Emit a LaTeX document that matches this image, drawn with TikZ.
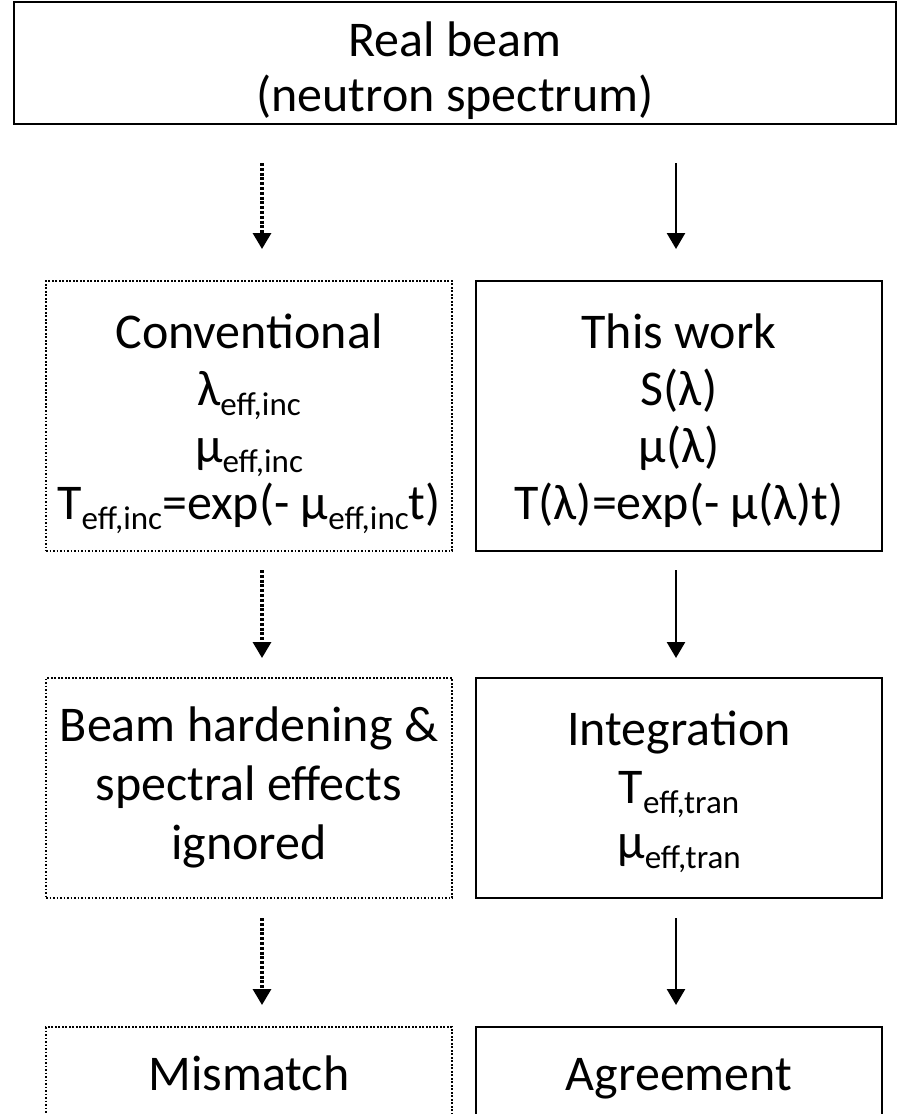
\documentclass[tikz,border=0pt]{standalone}
\usepackage{fontspec}
\setmainfont{Carlito}
\usetikzlibrary{arrows.meta}
\newcommand\mysub[1]{\raisebox{-0.2em}{\fontsize{33}{33}\selectfont #1}}
\begin{document}
\begin{tikzpicture}[x=1pt,y=-1pt,
  every node/.style={font={\fontsize{50}{57}\selectfont\lineskiplimit=-100pt}, align=center, inner sep=0pt},
  solidbox/.style={draw, line width=2.7pt, rectangle},
  dotbox/.style={draw, line width=1.9pt, dash pattern=on 1.9pt off 1.6pt, rectangle},
  solidarrow/.style={line width=2.6pt, -{Triangle[width=18pt,length=16pt]}},
  dotarrow/.style={line width=3.2pt, dash pattern=on 3pt off 1.8pt, -{Triangle[width=18pt,length=16pt]}}
]
\clip (0,0) rectangle (910,1114);
\fill[white] (0,0) rectangle (910,1114);

% top box
\node[solidbox, minimum width=882pt, minimum height=122pt] (top) at (455,63) {};
\node[anchor=base] (topa) at (455,56) {Real beam};
\node[anchor=base] (topb) at (455,111) {(neutron spectrum)};

% row 1
\node[dotbox, minimum width=406pt, minimum height=270pt] (conv) at (249,416) {};
\node[anchor=base] (c1) at (249,348) {Conventional};
\node[anchor=base] (c2) at (249,405) {λ\mysub{eff,inc}};
\node[anchor=base] (c3) at (249,462) {μ\mysub{eff,inc}};
\node[anchor=base] (c4) at (249,519) {T\mysub{eff,inc}=exp(- μ\mysub{eff,inc}t)};

\node[solidbox, minimum width=406pt, minimum height=270pt] (work) at (679,416) {};
\node[anchor=base] (w1) at (679,348) {This work};
\node[anchor=base] (w2) at (679,405) {S(λ)};
\node[anchor=base] (w3) at (679,462) {μ(λ)};
\node[anchor=base] (w4) at (679,519) {T(λ)=exp(- μ(λ)t)};

% row 2
\node[dotbox, minimum width=406pt, minimum height=220pt] (hard) at (249,788) {};
\node[anchor=base] (h1) at (249,741) {Beam hardening \&};
\node[anchor=base] (h2) at (249,800) {spectral effects};
\node[anchor=base] (h3) at (249,859) {ignored};

\node[solidbox, minimum width=406pt, minimum height=220pt] (integ) at (679,788) {};
\node[anchor=base] (i1) at (679,745) {Integration};
\node[anchor=base] (i2) at (679,803) {T\mysub{eff,tran}};
\node[anchor=base] (i3) at (679,858) {μ\mysub{eff,tran}};

% row 3
\node[dotbox, minimum width=406pt, minimum height=140pt] (mis) at (249,1097) {};
\node[solidbox, minimum width=406pt, minimum height=140pt] (agr) at (679,1097) {};
\node[anchor=base] (mist) at (249,1090) {Mismatch};
\node[anchor=base] (agrt) at (679,1090) {Agreement};

% arrow coordinates
\coordinate (a1s) at (262,163); \coordinate (a1e) at (262,249);
\coordinate (b1s) at (676,163); \coordinate (b1e) at (676,249);
\coordinate (a2s) at (262,570); \coordinate (a2e) at (262,658);
\coordinate (b2s) at (676,570); \coordinate (b2e) at (676,658);
\coordinate (a3s) at (262,918); \coordinate (a3e) at (262,1005);
\coordinate (b3s) at (676,918); \coordinate (b3e) at (676,1005);

\draw[dotarrow] (a1s) -- (a1e);
\draw[solidarrow] (b1s) -- (b1e);
\draw[dotarrow] (a2s) -- (a2e);
\draw[solidarrow] (b2s) -- (b2e);
\draw[dotarrow] (a3s) -- (a3e);
\draw[solidarrow] (b3s) -- (b3e);
\end{tikzpicture}
\end{document}
